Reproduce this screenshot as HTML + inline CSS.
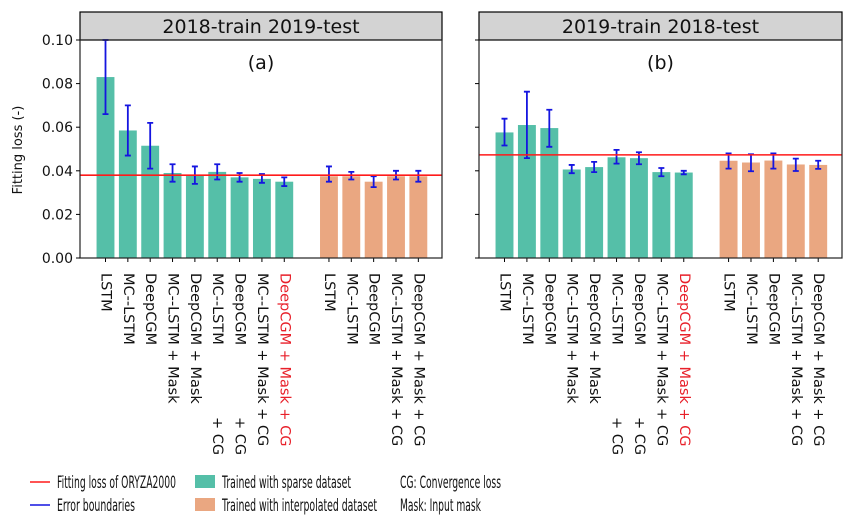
<!DOCTYPE html>
<html><head><meta charset="utf-8"><style>
body{margin:0;background:#fff}
svg{display:block;font-family:"DejaVu Sans","Liberation Sans",sans-serif}
</style></head><body>
<svg id="c" width="847" height="515" viewBox="0 0 847 515"></svg>
<script>
const labels=["LSTM","MC--LSTM","DeepCGM","MC--LSTM + Mask","DeepCGM + Mask","MC--LSTM|+ CG","DeepCGM|+ CG","MC--LSTM + Mask + CG","DeepCGM + Mask + CG","LSTM","MC--LSTM","DeepCGM","MC--LSTM + Mask + CG","DeepCGM + Mask + CG"];
const slots=[0,1,2,3,4,5,6,7,8,10,11,12,13,14];
const valsA=[0.083,0.0585,0.0515,0.039,0.038,0.0395,0.037,0.0363,0.035,0.0375,0.0375,0.035,0.0375,0.0375];
const loA=[0.066,0.047,0.041,0.035,0.034,0.036,0.035,0.0345,0.033,0.035,0.036,0.0325,0.036,0.035];
const hiA=[0.10,0.070,0.062,0.043,0.042,0.043,0.039,0.0385,0.037,0.042,0.0395,0.0375,0.040,0.040];
const refA=0.038;
const valsB=[0.0576,0.061,0.0596,0.0406,0.0417,0.0462,0.0458,0.0394,0.0392,0.0446,0.0438,0.0447,0.0429,0.0427];
const loB=[0.0516,0.0458,0.051,0.0389,0.0394,0.0433,0.043,0.0375,0.0384,0.041,0.0398,0.041,0.0399,0.0409];
const hiB=[0.0639,0.0763,0.068,0.0427,0.0441,0.0496,0.0485,0.0413,0.040,0.048,0.0476,0.048,0.0456,0.0446];
const refB=0.0473;
const yTicks=[0,0.02,0.04,0.06,0.08,0.10];
const yTickLabels=["0.00","0.02","0.04","0.06","0.08","0.10"];
const NS="http://www.w3.org/2000/svg";
const svg=document.getElementById('c');
function mk(t,a,p){const e=document.createElementNS(NS,t);for(const k in a)e.setAttribute(k,a[k]);(p||svg).appendChild(e);return e;}
const Y0=258,Y1=40;
function yS(v){return Y0-(v/0.1)*(Y0-Y1);}
function panel(L,R,title,tag,vals,lo,hi,ref,showY,pname){
  const g=mk('g',{});
  
  
  const x0=L+25.5,dx=(R-L)/16.2;
  const xS=s=>x0+s*dx;
  const hd=mk('rect',{x:L,y:12,width:R-L,height:28,fill:'#d3d3d3',stroke:'#000','stroke-width':1.2},g);
  
  const ht=mk('text',{x:(L+R)/2,y:33,'text-anchor':'middle','font-size':19,fill:'#111'},g);ht.textContent=title;
  
  const tg=mk('text',{x:(L+R)/2,y:69,'text-anchor':'middle','font-size':19,fill:'#111'},g);tg.textContent=tag;
  
  const cg=mk('g',{'clip-path':'url(#cl'+tag+')'},g);
  const cp=mk('clipPath',{id:'cl'+tag},g);mk('rect',{x:L,y:Y1,width:R-L,height:Y0-Y1},cp);
  vals.forEach((v,i)=>{
    const xc=xS(slots[i]),w=dx*0.8;
    const b=mk('rect',{x:xc-w/2,y:yS(v),width:w,height:Y0-yS(v),fill:i<9?'#55bfa8':'#eaa781'},cg);
    
    const e=mk('path',{d:`M${xc},${yS(lo[i])}V${yS(hi[i])}M${xc-3},${yS(lo[i])}H${xc+3}M${xc-3},${yS(hi[i])}H${xc+3}`,stroke:'#1515e0','stroke-width':1.8,fill:'none'},cg);
    
    mk('line',{x1:xc,x2:xc,y1:Y0,y2:Y0+4,stroke:'#000'},g);
    const parts=labels[i].split('|');
    const col=i===8?'#e8202a':'#111';
    const t1=mk('text',{transform:`translate(${xc},273) rotate(90)`,'font-size':14.5,fill:col,'dominant-baseline':'central'},g);
    t1.textContent=parts[0];
    
    if(parts[1]){const t2=mk('text',{transform:`translate(${xc},417) rotate(90)`,'font-size':14.5,fill:col,'dominant-baseline':'central'},g);t2.textContent=parts[1];}
  });
  const rl=mk('line',{x1:L,x2:R,y1:yS(ref),y2:yS(ref),stroke:'#ff1a1a','stroke-width':1.6},g);
  
  mk('rect',{x:L,y:Y1,width:R-L,height:Y0-Y1,fill:'none',stroke:'#222','stroke-width':1.2},g);
  yTicks.forEach((t,k)=>{
    mk('line',{x1:L-4,x2:L,y1:yS(t),y2:yS(t),stroke:'#000'},g);
    if(showY){const tl=mk('text',{x:L-7,y:yS(t)+5,'text-anchor':'end','font-size':14,fill:'#111'},g);tl.textContent=yTickLabels[k];
      }
  });
}
panel(80,442,'2018-train 2019-test','(a)',valsA,loA,hiA,refA,true,'panel-a');
panel(479,842,'2019-train 2018-test','(b)',valsB,loB,hiB,refB,false,'panel-b');
const yt=mk('text',{transform:'translate(22,150) rotate(-90)','text-anchor':'middle','font-size':13,fill:'#111'});yt.textContent='Fitting loss (-)';

const lg=mk('g',{'font-size':16.5,fill:'#111'});

mk('line',{x1:30,x2:50,y1:482,y2:482,stroke:'#ff1a1a','stroke-width':1.6},lg);
mk('line',{x1:30,x2:50,y1:505,y2:505,stroke:'#1515e0','stroke-width':1.6},lg);
mk('rect',{x:195,y:475,width:20,height:13,fill:'#55bfa8'},lg);
mk('rect',{x:195,y:498,width:20,height:13,fill:'#eaa781'},lg);
[[57,488,'Fitting loss of ORYZA2000',119],[57,511,'Error boundaries',78],[222,488,'Trained with sparse dataset',129],[222,511,'Trained with interpolated dataset',155],[400,488,'CG: Convergence loss',101],[400,511,'Mask: Input mask',81]].forEach(a=>{
  const t=mk('text',{x:a[0],y:a[1],textLength:a[3],lengthAdjust:'spacingAndGlyphs'},lg);t.textContent=a[2];
  
});
</script>
</body></html>
